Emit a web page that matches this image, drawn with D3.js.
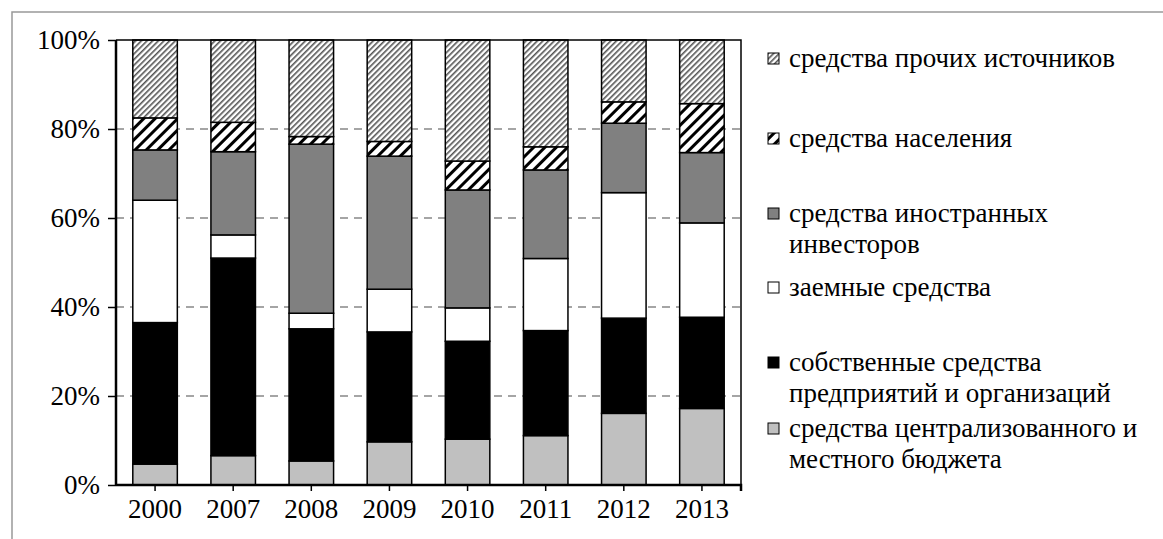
<!DOCTYPE html>
<html>
<head>
<meta charset="utf-8">
<script src="https://cdn.jsdelivr.net/npm/d3@7"></script>
<style>
  text, tspan { font-family: "Liberation Serif", "Times New Roman", serif !important; }
</style>
</head>
<body>
<svg width="1163" height="539" font-family="Liberation Serif" style="position:absolute;left:0;top:0"></svg>
<script>
// years on the x axis
const years = ["2000", "2007", "2008", "2009", "2010", "2011", "2012", "2013"];

// shares, % (bottom to top)
const budget     = [4.7, 6.6, 5.4, 9.7, 10.3, 11.1, 16.1, 17.2];
const ownFunds   = [31.8, 44.4, 29.7, 24.7, 22.0, 23.6, 21.4, 20.5];
const loans      = [27.5, 5.2, 3.5, 9.6, 7.5, 16.2, 28.2, 21.2];
const foreign    = [11.3, 18.7, 38.0, 29.9, 26.5, 19.9, 15.6, 15.8];
const population = [7.2, 6.6, 1.7, 3.3, 6.5, 5.2, 4.8, 11.0];
const other      = [17.5, 18.5, 21.7, 22.8, 27.2, 24.0, 13.9, 14.3];

const yTicks = [0, 20, 40, 60, 80, 100];

const seriesNames = [
  "средства централизованного и|местного бюджета",
  "собственные средства|предприятий и организаций",
  "заемные средства",
  "средства иностранных|инвесторов",
  "средства населения",
  "средства прочих источников"
];

const FONT = 27;
const FAMILY = "'Liberation Serif'";

const svg = d3.select("svg");
const defs = svg.append("defs");

// fine hatch for "other"
const p1 = defs.append("pattern").attr("id", "fine")
  .attr("patternUnits", "userSpaceOnUse").attr("width", 4).attr("height", 4)
  .attr("patternTransform", "rotate(45)");
p1.append("rect").attr("width", 4).attr("height", 4).attr("fill", "#fff");
p1.append("rect").attr("width", 1.6).attr("height", 4).attr("fill", "#555");

// wide hatch for "population"
const p2 = defs.append("pattern").attr("id", "wide")
  .attr("patternUnits", "userSpaceOnUse").attr("width", 8).attr("height", 8)
  .attr("patternTransform", "rotate(45)");
p2.append("rect").attr("width", 8).attr("height", 8).attr("fill", "#fff");
p2.append("rect").attr("width", 3).attr("height", 8).attr("fill", "#000");

const fills = ["#c0c0c0", "#000", "#fff", "#808080", "url(#wide)", "url(#fine)"];

// outer frame
svg.append("rect").attr("x", 12).attr("y", 12).attr("width", 1200).attr("height", 600)
  .attr("fill", "none").attr("stroke", "#999").attr("stroke-width", 1.5);

const margin = { left: 116, top: 40, right: 741, bottom: 485 };

const x = d3.scaleBand().domain(years).range([margin.left, margin.right]).paddingInner(0.43).paddingOuter(0.215);
const y = d3.scaleLinear().domain([0, 100]).range([margin.bottom, margin.top]);

// grid
svg.append("g").selectAll("line").data(yTicks.filter(d => d > 0 && d < 100)).join("line")
  .attr("x1", margin.left).attr("x2", margin.right)
  .attr("y1", d => y(d)).attr("y2", d => y(d))
  .attr("stroke", "#888").attr("stroke-width", 1.5).attr("stroke-dasharray", "8,6");

const table = years.map((yr, i) => ({
  year: yr, s0: budget[i], s1: ownFunds[i], s2: loans[i], s3: foreign[i], s4: population[i], s5: other[i]
}));
const keys = ["s0", "s1", "s2", "s3", "s4", "s5"];
const stacked = d3.stack().keys(keys)(table);

svg.append("g").selectAll("g").data(stacked).join("g")
  .attr("fill", (d, i) => fills[i])
  .selectAll("rect").data(d => d).join("rect")
  .attr("x", d => x(d.data.year))
  .attr("width", x.bandwidth())
  .attr("y", d => y(d[1]))
  .attr("height", d => y(d[0]) - y(d[1]))
  .attr("stroke", "#000").attr("stroke-width", 1.5);

// plot border top/right
svg.append("path")
  .attr("d", `M${margin.left},${margin.top}H${margin.right}V${margin.bottom}`)
  .attr("fill", "none").attr("stroke", "#000").attr("stroke-width", 1.5);

// y axis
const yAxis = svg.append("g").attr("transform", `translate(${margin.left},0)`)
  .call(d3.axisLeft(y).tickValues(yTicks).tickFormat(d => d + "%").tickSize(8).tickPadding(8))
  .attr("font-family", "Liberation Serif");
yAxis.select(".domain").attr("stroke-width", 2.5).attr("d", `M0,${margin.top}V${margin.bottom}`);
yAxis.selectAll(".tick line").attr("stroke-width", 1.5);
yAxis.selectAll("text").attr("font-size", FONT).attr("fill", "#000").style("font-family", FAMILY);

// x axis
const xAxis = svg.append("g").attr("transform", `translate(0,${margin.bottom})`)
  .call(d3.axisBottom(x).tickSize(6).tickPadding(8))
  .attr("font-family", "Liberation Serif");
xAxis.select(".domain").attr("stroke-width", 2.5).attr("d", `M${margin.left},0H${margin.right}V6`);
xAxis.selectAll(".tick line").attr("stroke-width", 1.5);
xAxis.selectAll("text").attr("font-size", FONT).attr("fill", "#000").style("font-family", FAMILY);

// legend, top item first
const legendRows = [
  { i: 5, y: 58 }, { i: 4, y: 138 }, { i: 3, y: 213 },
  { i: 2, y: 287 }, { i: 1, y: 362 }, { i: 0, y: 428 }
];
const lg = svg.append("g");
legendRows.forEach(r => {
  lg.append("rect").attr("x", 768).attr("y", r.y - 5).attr("width", 11).attr("height", 11)
    .attr("fill", fills[r.i]).attr("stroke", "#000").attr("stroke-width", 1);
  const t = lg.append("text").attr("x", 789).attr("y", r.y + 9)
    .attr("font-size", FONT).attr("fill", "#000").style("font-family", FAMILY);
  seriesNames[r.i].split("|").forEach((line, k) => {
    t.append("tspan").attr("x", 789).attr("dy", k === 0 ? 0 : 31).text(line);
  });
});
</script>
</body>
</html>
